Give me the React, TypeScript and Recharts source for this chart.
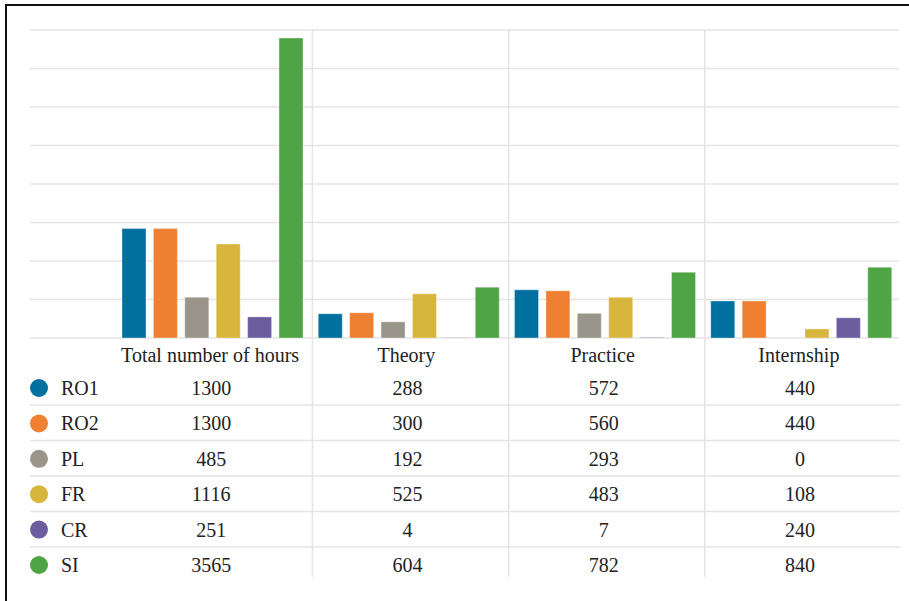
import { BarChart, Bar, XAxis, YAxis, CartesianGrid } from "recharts";

const categories = ["Total number of hours", "Theory", "Practice", "Internship"];
const ro1 = [1300, 288, 572, 440];
const ro2 = [1300, 300, 560, 440];
const pl = [485, 192, 293, 0];
const fr = [1116, 525, 483, 108];
const cr = [251, 4, 7, 240];
const si = [3565, 604, 782, 840];

const seriesNames = ["RO1", "RO2", "PL", "FR", "CR", "SI"];
const seriesColors = ["#00709f", "#ef7f31", "#99958a", "#d8b53c", "#6c5d9e", "#4fa546"];
const seriesValues = [ro1, ro2, pl, fr, cr, si];

// the y axis is hidden, these only place the horizontal grid lines
const gridTicks = [0, 457.5, 915, 1372.5, 1830, 2287.5, 2745, 3202.5, 3660];

const data = categories.map((name, i) => {
  const row: Record<string, string | number> = { name };
  seriesNames.forEach((s, k) => {
    row[s] = seriesValues[k][i];
  });
  return row;
});

const GRID = "#e4e4e4";
const TEXT = "#222";
const textStyle = { fontFamily: '"Liberation Serif", serif', fontSize: 20 };

function TableTick(props: any) {
  const { x, y, payload } = props;
  const i = props.index ?? payload.index;
  return (
    <g>
      {i > 0 && (
        <line x1={x - 96} x2={x - 96} y1={30} y2={y + 239} stroke={GRID} strokeWidth={1.5} />
      )}
      {i === 0 &&
        [0, 1, 2, 3, 4].map((r) => (
          <line
            key={"h" + r}
            x1={30}
            x2={900}
            y1={y + 67 + r * 35.5}
            y2={y + 67 + r * 35.5}
            stroke={GRID}
            strokeWidth={1.5}
          />
        ))}
      {i === 0 &&
        seriesNames.map((s, r) => (
          <g key={"l" + s}>
            <circle cx={39} cy={y + 50 + r * 35.4} r={9} fill={seriesColors[r]} />
            <text x={61} y={y + 50 + r * 35.4} dominantBaseline="central" fill={TEXT} style={textStyle}>
              {s}
            </text>
          </g>
        ))}
      <text
        x={x - 2}
        y={y + 17}
        textAnchor="middle"
        dominantBaseline="central"
        fill={TEXT}
        style={textStyle}
      >
        {payload.value}
      </text>
      {seriesValues.map((vals, r) => (
        <text
          key={"v" + r}
          x={x - 1}
          y={y + 50 + r * 35.4}
          textAnchor="middle"
          dominantBaseline="central"
          fill={TEXT}
          style={textStyle}
        >
          {vals[i]}
        </text>
      ))}
    </g>
  );
}

export default function App() {
  return (
    <div style={{ position: "absolute", left: 0, top: 0, width: 909, height: 601, background: "#fff" }}>
      <div
        style={{
          position: "absolute",
          left: 5,
          top: 4,
          right: 0,
          bottom: 0,
          borderTop: "2px solid #111",
          borderLeft: "2px solid #111",
        }}
      />
      <BarChart
        width={909}
        height={601}
        data={data}
        margin={{ top: 30, right: 10, bottom: 0, left: 30 }}
        barSize={24}
        barGap={7.4}
        style={{ position: "absolute", left: 0, top: 0 }}
      >
        <CartesianGrid vertical={false} stroke={GRID} strokeWidth={1.5} />
        <YAxis hide domain={[0, 3660]} ticks={gridTicks} />
        <XAxis
          dataKey="name"
          height={263}
          padding={{ left: 84, right: 0 }}
          axisLine={false}
          tickLine={false}
          tickSize={0}
          tickMargin={0}
          interval={0}
          tick={<TableTick />}
        />
        {seriesNames.map((s, k) => (
          <Bar
            key={s}
            dataKey={s}
            fill={seriesColors[k]}
            stroke="#ffffff"
            strokeOpacity={0.35}
            strokeWidth={1}
            isAnimationActive={false}
          />
        ))}
      </BarChart>
    </div>
  );
}
